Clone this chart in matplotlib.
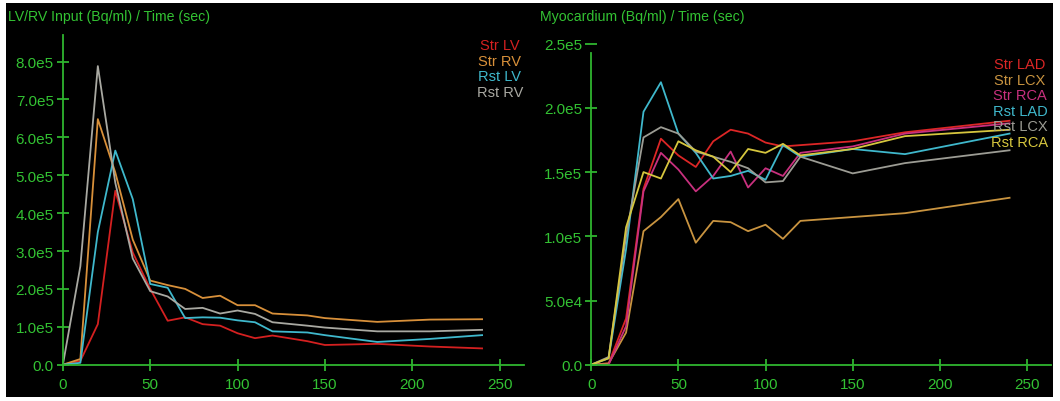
import numpy as np
import matplotlib
matplotlib.use("Agg")
import matplotlib.pyplot as plt
from matplotlib.patches import Rectangle

# ---- data ----
t_input = [0, 10, 20, 30, 40, 50, 60, 70, 80, 90, 100, 110, 120, 140, 150, 180, 210, 240]
str_lv = [0, 0.1e5, 1.07e5, 4.59e5, 2.96e5, 2.0e5, 1.16e5, 1.25e5, 1.07e5, 1.03e5, 0.83e5, 0.70e5,
          0.77e5, 0.62e5, 0.52e5, 0.55e5, 0.48e5, 0.43e5]
str_rv = [0, 0.15e5, 6.48e5, 5.07e5, 3.3e5, 2.22e5, 2.1e5, 2.0e5, 1.76e5, 1.82e5, 1.57e5, 1.57e5,
          1.35e5, 1.30e5, 1.23e5, 1.13e5, 1.19e5, 1.20e5]
rst_lv = [0, 0.05e5, 3.5e5, 5.65e5, 4.37e5, 2.13e5, 2.03e5, 1.23e5, 1.25e5, 1.24e5, 1.17e5, 1.12e5,
          0.88e5, 0.85e5, 0.78e5, 0.60e5, 0.68e5, 0.78e5]
rst_rv = [0, 2.6e5, 7.88e5, 4.8e5, 2.8e5, 1.94e5, 1.8e5, 1.47e5, 1.5e5, 1.35e5, 1.43e5, 1.34e5,
          1.12e5, 1.03e5, 0.98e5, 0.88e5, 0.88e5, 0.92e5]

t_myo = [0, 10, 20, 30, 40, 50, 60, 70, 80, 90, 100, 110, 120, 150, 180, 240]
str_lad = [0, 0.01e5, 0.36e5, 1.37e5, 1.76e5, 1.63e5, 1.54e5, 1.74e5, 1.83e5, 1.80e5, 1.73e5, 1.70e5,
           1.71e5, 1.74e5, 1.81e5, 1.90e5]
str_lcx = [0, 0.01e5, 0.25e5, 1.04e5, 1.15e5, 1.29e5, 0.95e5, 1.12e5, 1.11e5, 1.04e5, 1.09e5, 0.98e5,
           1.12e5, 1.15e5, 1.18e5, 1.30e5]
str_rca = [0, 0.0, 0.30e5, 1.35e5, 1.65e5, 1.52e5, 1.35e5, 1.47e5, 1.66e5, 1.38e5, 1.53e5, 1.47e5,
           1.65e5, 1.70e5, 1.80e5, 1.88e5]
rst_lad = [0, 0.05e5, 0.90e5, 1.97e5, 2.20e5, 1.80e5, 1.65e5, 1.45e5, 1.47e5, 1.51e5, 1.44e5, 1.71e5,
           1.62e5, 1.68e5, 1.64e5, 1.80e5]
rst_lcx = [0, 0.06e5, 1.0e5, 1.77e5, 1.85e5, 1.80e5, 1.66e5, 1.62e5, 1.58e5, 1.53e5, 1.42e5, 1.43e5,
           1.62e5, 1.49e5, 1.57e5, 1.67e5]
rst_rca = [0, 0.05e5, 1.07e5, 1.50e5, 1.45e5, 1.74e5, 1.67e5, 1.62e5, 1.50e5, 1.68e5, 1.65e5, 1.72e5,
           1.63e5, 1.68e5, 1.78e5, 1.83e5]

input_labels = ["Str LV", "Str RV", "Rst LV", "Rst RV"]
myo_labels = ["Str LAD", "Str LCX", "Str RCA", "Rst LAD", "Rst LCX", "Rst RCA"]
input_ticks = [0, 1e5, 2e5, 3e5, 4e5, 5e5, 6e5, 7e5, 8e5]
input_ticklabels = ["0.0", "1.0e5", "2.0e5", "3.0e5", "4.0e5", "5.0e5", "6.0e5", "7.0e5", "8.0e5"]
myo_ticks = [0, 5e4, 1e5, 1.5e5, 2e5, 2.5e5]
myo_ticklabels = ["0.0", "5.0e4", "1.0e5", "1.5e5", "2.0e5", "2.5e5"]
x_ticks = [0, 50, 100, 150, 200, 250]

# ---- style ----
GREEN = "#2fb52f"
TEXT_GREEN = "#33c233"
input_colors = ["#d42020", "#d8903a", "#3fb8cc", "#a9a9a2"]
myo_colors = ["#dc2626", "#c99440", "#c8307e", "#3fb8cc", "#9c9c94", "#d6c63e"]

W, H = 1060, 402
fig = plt.figure(figsize=(W / 100, H / 100), dpi=100, facecolor="white")
fig.patches.append(Rectangle((6 / W, 4 / H), (1053 - 6) / W, (398 - 4) / H,
                             transform=fig.transFigure, facecolor="black",
                             edgecolor="none", zorder=-10))


def px_axes(x0, y0, x1, y1):
    # pixel box (top-left origin) -> figure axes
    return fig.add_axes([x0 / W, 1 - y1 / H, (x1 - x0) / W, (y1 - y0) / H])


def style_axes(ax, yticks, yticklabels, ymax, spine_top=None):
    ax.set_facecolor("none")
    for s in ["top", "right"]:
        ax.spines[s].set_visible(False)
    for s in ["left", "bottom"]:
        ax.spines[s].set_color(GREEN)
        ax.spines[s].set_linewidth(1.3)
    if spine_top is not None:
        ax.spines["left"].set_bounds(0, spine_top)
    ax.set_xlim(0, 264)
    ax.set_ylim(0, ymax)
    ax.set_xticks(x_ticks)
    ax.set_yticks(yticks)
    ax.set_yticklabels(yticklabels)
    ax.tick_params(direction="inout", length=9, width=1.3, color=GREEN,
                   labelcolor=TEXT_GREEN, labelsize=11, pad=2)
    ax.tick_params(axis="x", pad=4)
    for lab in ax.get_xticklabels() + ax.get_yticklabels():
        lab.set_family("Liberation Sans")


# left panel: LV/RV input
ax1 = px_axes(62.9, 36, 524, 365.7)
for vals, c in zip([str_lv, str_rv, rst_lv, rst_rv], input_colors):
    ax1.plot(t_input, vals, color=c, lw=1.3)
style_axes(ax1, input_ticks, input_ticklabels, 8.7e5)
for i, (lab, c) in enumerate(zip(input_labels, input_colors)):
    fig.text(500 / W, 1 - (46 + 15.6 * i) / H, lab, color=c, fontsize=10.5,
             ha="center", va="center", family="Liberation Sans")
fig.text(8 / W, 1 - 17 / H, "LV/RV Input (Bq/ml) / Time (sec)", color=TEXT_GREEN,
         fontsize=10.2, ha="left", va="center", family="Liberation Sans")

# right panel: myocardium
ax2 = px_axes(591.2, 44.7, 1051.4, 365.7)
for vals, c in zip([str_lad, str_lcx, str_rca, rst_lad, rst_lcx, rst_rca], myo_colors):
    ax2.plot(t_myo, vals, color=c, lw=1.3)
style_axes(ax2, myo_ticks, myo_ticklabels, 2.5e5, spine_top=2.43e5)
for i, (lab, c) in enumerate(zip(myo_labels, myo_colors)):
    fig.text(1020 / W, 1 - (65 + 15.6 * i) / H, lab, color=c, fontsize=10.5,
             ha="center", va="center", family="Liberation Sans")
fig.text(540 / W, 1 - 17 / H, "Myocardium (Bq/ml) / Time (sec)", color=TEXT_GREEN,
         fontsize=10.2, ha="left", va="center", family="Liberation Sans")

fig.savefig("out.png", dpi=100, facecolor="white")
